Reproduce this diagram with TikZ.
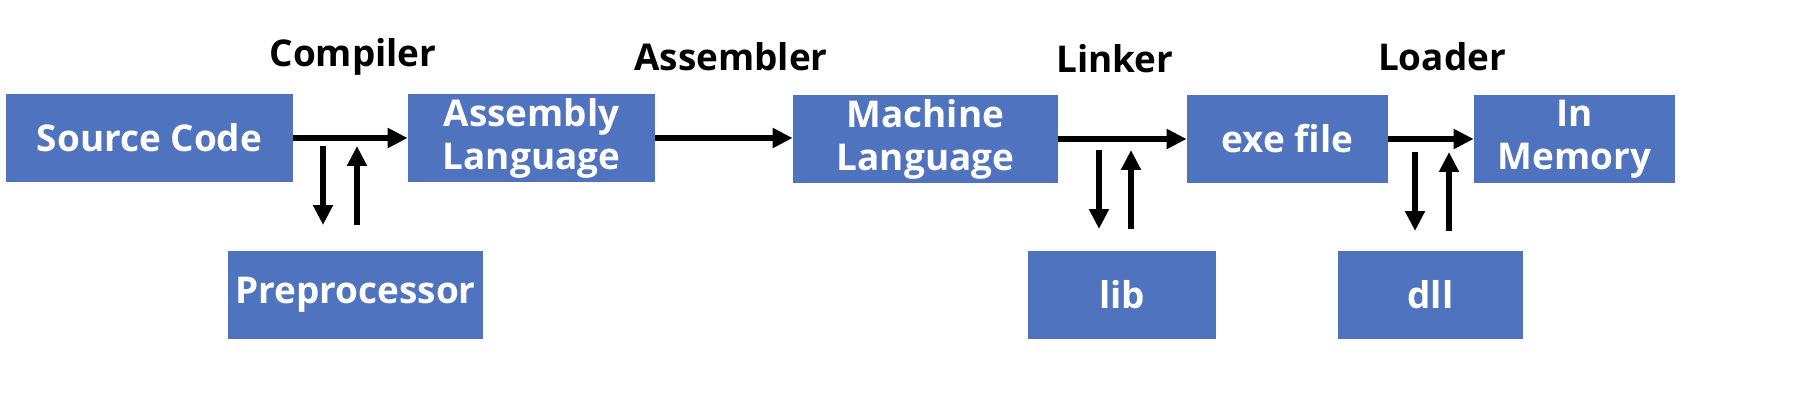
\documentclass[tikz,border=0pt]{standalone}
\usepackage{fontspec}
\setmainfont{Open Sans}
\usetikzlibrary{positioning,arrows.meta}
\definecolor{boxblue}{RGB}{79,115,190}

\begin{document}
\begin{tikzpicture}[
  x=0.02cm, y=-0.02cm,
  stage/.style={rectangle, fill=boxblue, text=white, align=center, inner sep=0pt, minimum height=1.76cm, font=\fontsize{21}{24.4}\selectfont\bfseries},
  tool/.style={font=\fontsize{21}{24.4}\selectfont\bfseries, inner sep=0pt},
  arrow/.style={-{Triangle[length=0.4cm, width=0.38cm]}, line width=0.12cm},
]
\useasboundingbox (0,0) rectangle (1801,409);

% === Main chain ===
\node[stage, minimum width=5.74cm] (src) at (149.5,138) {Source Code};
\node[stage, minimum width=4.94cm] (asm) at (531.5,138) {Assembly\\Language};
\node[stage, minimum width=5.30cm] (mach) at (925.5,139) {Machine\\Language};
\node[stage, minimum width=4.02cm] (exe) at (1287.5,139) {exe file};
\node[stage, minimum width=4.02cm] (mem) at (1574.5,139) {In\\Memory};

\draw[arrow] (src.east) -- (src.east -| asm.west);
\draw[arrow] (asm.east) -- (asm.east -| mach.west);
\draw[arrow] (mach.east) -- (mach.east -| exe.west);
\draw[arrow] (exe.east) -- (exe.east -| mem.west);

% === Tools above the arrows ===
\node[tool] (compiler) at (353,57) {Compiler};
\node[tool] (assembler) at (731,57) {Assembler};
\node[tool] (linker) at (1115,59) {Linker};
\node[tool] (loader) at (1442,57) {Loader};

% === Side inputs ===
\node[stage, minimum width=5.10cm] (prep) at (355.5,295) {Preprocessor};
\node[stage, minimum width=3.76cm] (lib) at (1122,295) {lib};
\node[stage, minimum width=3.70cm] (dll) at (1430.5,295) {dll};

\coordinate (prepa) at (323,146);
\coordinate (prepb) at (323,225);
\coordinate (prepc) at (357,225);
\coordinate (prepd) at (357,146);
\draw[arrow] (prepa) -- (prepb);
\draw[arrow] (prepc) -- (prepd);

\coordinate (liba) at (1099,150);
\coordinate (libb) at (1099,229);
\coordinate (libc) at (1131,229);
\coordinate (libd) at (1131,150);
\draw[arrow] (liba) -- (libb);
\draw[arrow] (libc) -- (libd);

\coordinate (dlla) at (1415,152);
\coordinate (dllb) at (1415,231);
\coordinate (dllc) at (1449,231);
\coordinate (dlld) at (1449,152);
\draw[arrow] (dlla) -- (dllb);
\draw[arrow] (dllc) -- (dlld);

\end{tikzpicture}
\end{document}
